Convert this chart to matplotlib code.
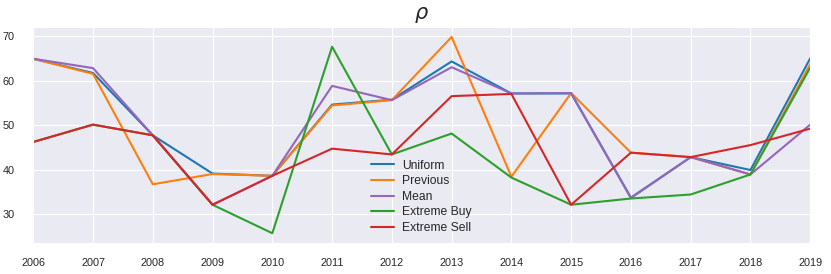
import matplotlib
matplotlib.use("Agg")
import matplotlib.pyplot as plt
import seaborn as sns

sns.set_style("darkgrid")
plt.rcParams['font.family'] = ['Liberation Sans', 'DejaVu Sans']

years = list(range(2006, 2020))

# rho per year for each strategy
uniform = [64.9, 61.7, 47.7, 39.1, 38.6, 54.6, 55.7, 64.3, 57.1, 57.1, 33.7, 42.8, 39.9, 65.0]
previous = [64.9, 61.5, 36.7, 39.0, 38.6, 54.4, 55.6, 69.8, 38.4, 57.2, 43.8, 42.8, 38.9, 63.7]
mean = [64.9, 62.8, 47.7, 32.1, 38.6, 58.8, 55.6, 63.0, 57.1, 57.2, 33.6, 42.8, 38.9, 50.1]
extreme_buy = [46.2, 50.1, 47.7, 32.1, 25.7, 67.6, 43.4, 48.1, 38.2, 32.1, 33.5, 34.4, 38.9, 62.9]
extreme_sell = [46.2, 50.1, 47.7, 32.1, 38.6, 44.7, 43.4, 56.5, 57.0, 32.1, 43.8, 42.8, 45.5, 49.2]

fig, ax = plt.subplots(figsize=(8.31, 2.74), dpi=100)
ax.plot(years, uniform, color='tab:blue', label='Uniform')
ax.plot(years, previous, color='tab:orange', label='Previous')
ax.plot(years, mean, color='tab:purple', label='Mean')
ax.plot(years, extreme_buy, color='tab:green', label='Extreme Buy')
ax.plot(years, extreme_sell, color='tab:red', label='Extreme Sell')

ax.set_xlim(2006, 2019)
ax.set_xticks(years)
ax.set_yticks([30, 40, 50, 60, 70])
ax.tick_params(axis='x', pad=7.5, labelsize=7.8)
ax.tick_params(axis='y', pad=10, labelsize=7.8)
ax.set_title(r'$\rho$', fontsize=15)
ax.legend(loc='center', bbox_to_anchor=(0.50, 0.214), frameon=False,
          fontsize=8.7, handlelength=1.9, handletextpad=0.66, labelspacing=0.3)

plt.subplots_adjust(left=0.040, right=0.975, top=0.901, bottom=0.113)
plt.savefig('out.png')
